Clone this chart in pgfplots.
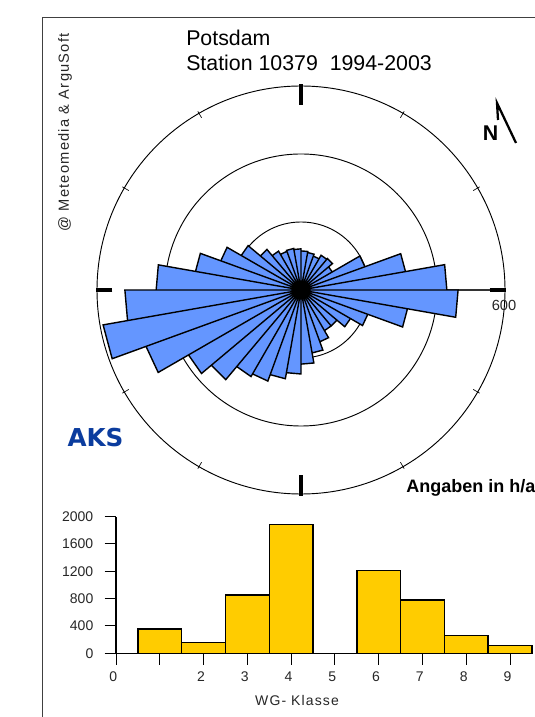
\documentclass[border=0pt]{standalone}
\usepackage{fontspec}
\setmainfont{Liberation Sans}
\newfontfamily\aksfont{DejaVu Sans}
\usepackage{pgfplots}
\pgfplotsset{compat=1.18}
\usepgfplotslibrary{polar}
\definecolor{roseblue}{HTML}{6496FF}
\definecolor{baryellow}{HTML}{FFCC00}
\definecolor{aksblue}{HTML}{0B3C9E}
\begin{document}
\begin{tikzpicture}[x=0.75pt,y=0.75pt]
\path[use as bounding box] (0,0) rectangle (535,717);
\clip (0,0) rectangle (535,717);
\draw[black!75,line width=0.75pt] (42,0) -- (42,699) -- (535,699);

% wind rose, hours per year per 10 degree sector
\begin{polaraxis}[
    at={(225.75pt,320.25pt)}, anchor=center,
    scale only axis, width=306pt, height=306pt,
    xmin=0, xmax=360, ymin=0, ymax=600,
    xtick=\empty, ytick={200,400,600}, yticklabels={},
    ymajorgrids, grid style={black, line width=0.7pt},
    major y tick style={draw=none},
    axis line style={draw=none},
    clip=false
  ]
  \addplot[black!80, line width=0.8pt] coordinates {(0,0) (0,600)};
  \addplot[fill=roseblue, draw=black, line width=1.05pt] coordinates {
    (80,0)(80,115)(90,115)(90,0)
    (70,0)(70,112)(80,112)(80,0)
    (60,0)(60,106)(70,106)(70,0)
    (50,0)(50,118)(60,118)(60,0)
    (40,0)(40,121)(50,121)(50,0)
    (30,0)(30,106)(40,106)(40,0)
    (20,0)(20,200)(30,200)(30,0)
    (10,0)(10,312)(20,312)(20,0)
    (0,0)(0,429)(10,429)(10,0)
    (350,0)(350,462)(360,462)(360,0)
    (340,0)(340,318)(350,318)(350,0)
    (330,0)(330,209)(340,209)(340,0)
    (320,0)(320,168)(330,168)(330,0)
    (310,0)(310,138)(320,138)(320,0)
    (300,0)(300,138)(310,138)(310,0)
    (290,0)(290,162)(300,162)(300,0)
    (280,0)(280,188)(290,188)(290,0)
    (270,0)(270,218)(280,218)(280,0)
    (260,0)(260,247)(270,247)(270,0)
    (250,0)(250,265)(260,265)(260,0)
    (240,0)(240,285)(250,285)(250,0)
    (230,0)(230,294)(240,294)(240,0)
    (220,0)(220,344)(230,344)(230,0)
    (210,0)(210,382)(220,382)(220,0)
    (200,0)(200,485)(210,485)(210,0)
    (190,0)(190,591)(200,591)(200,0)
    (180,0)(180,518)(190,518)(190,0)
    (170,0)(170,426)(180,426)(180,0)
    (160,0)(160,315)(170,315)(170,0)
    (150,0)(150,251)(160,251)(160,0)
    (140,0)(140,203)(150,203)(150,0)
    (130,0)(130,156)(140,156)(140,0)
    (120,0)(120,132)(130,132)(130,0)
    (110,0)(110,121)(120,121)(120,0)
    (100,0)(100,124)(110,124)(110,0)
    (90,0)(90,121)(100,121)(100,0)
  };
  % ticks on the outer ring
  \addplot[black, line width=2.4pt] coordinates {(90,545)(90,605)};
  \addplot[black, line width=2.4pt] coordinates {(270,545)(270,605)};
  \addplot[black, line width=2.4pt] coordinates {(0,555)(0,602)};
  \addplot[black, line width=2.4pt] coordinates {(180,555)(180,602)};
  \addplot[black, line width=0.5pt] coordinates {(30,585)(30,607)};
  \addplot[black, line width=0.5pt] coordinates {(60,585)(60,607)};
  \addplot[black, line width=0.5pt] coordinates {(120,585)(120,607)};
  \addplot[black, line width=0.5pt] coordinates {(150,585)(150,607)};
  \addplot[black, line width=0.5pt] coordinates {(210,585)(210,607)};
  \addplot[black, line width=0.5pt] coordinates {(240,585)(240,607)};
  \addplot[black, line width=0.5pt] coordinates {(300,585)(300,607)};
  \addplot[black, line width=0.5pt] coordinates {(330,585)(330,607)};
\end{polaraxis}

% wind speed classes
\begin{axis}[
    at={(87pt,47.8pt)}, anchor=origin,
    scale only axis, width=312pt, height=102.5pt,
    xmin=0, xmax=9.5, ymin=0, ymax=2000,
    axis x line=bottom, axis y line=left,
    axis line style={-, line width=0.9pt, black},
    xtick={0,...,9}, xticklabels={0,,2,3,4,5,6,7,8,9},
    ytick={0,400,800,1200,1600,2000},
    tick align=outside, major tick length=8.5pt,
    tick style={black, line width=0.7pt},
    /pgf/number format/assume math mode=true,
    /pgf/number format/1000 sep={},
    tick label style={font=\fontsize{10.5}{10.5}\selectfont, text=black!85},
    xticklabel style={xshift=-2pt, yshift=-2pt},
    yticklabel style={xshift=-5pt},
    clip=false
  ]
  \addplot[ybar, bar width=32.85pt, bar shift=0pt, fill=baryellow, draw=black, line width=1.1pt]
    coordinates {(1,356)(2,156)(3,854)(4,1888)(5,0)(6,1210)(7,780)(8,258)(9,112)};
\end{axis}

\node[inner sep=0pt, anchor=base west, font=\fontsize{16}{16}\selectfont] at (186,671) {Potsdam};
\node[inner sep=0pt, anchor=base west, font=\fontsize{16}{16}\selectfont] at (186,646) {Station 10379\ \ 1994-2003};
\node[inner sep=0pt, rotate=90, anchor=east, font=\fontsize{11}{11}\selectfont\addfontfeatures{LetterSpace=8.5}, text=black!85] at (65,684) {@ Meteomedia \& ArguSoft};
\node[inner sep=0pt, font=\fontsize{11}{11}\selectfont, text=black!85] at (504,412) {600};
\node[inner sep=0pt, anchor=base west, font=\bfseries\fontsize{13.5}{13.5}\selectfont] at (406,224) {Angaben in h/a};
\node[inner sep=0pt, font=\aksfont\bfseries\fontsize{18.5}{18.5}\selectfont, text=aksblue] at (95.5,279) {AKS};
\node[inner sep=0pt, font=\fontsize{10.5}{10.5}\selectfont\addfontfeatures{LetterSpace=8}, text=black!85] at (297,17) {WG- Klasse};
% north arrow
\node[inner sep=0pt, font=\bfseries\fontsize{16}{16}\selectfont] at (490.5,583.5) {N};
\draw[black, line width=1.7pt] (498,597) -- (497,614) -- (516,574);
\end{tikzpicture}
\end{document}
